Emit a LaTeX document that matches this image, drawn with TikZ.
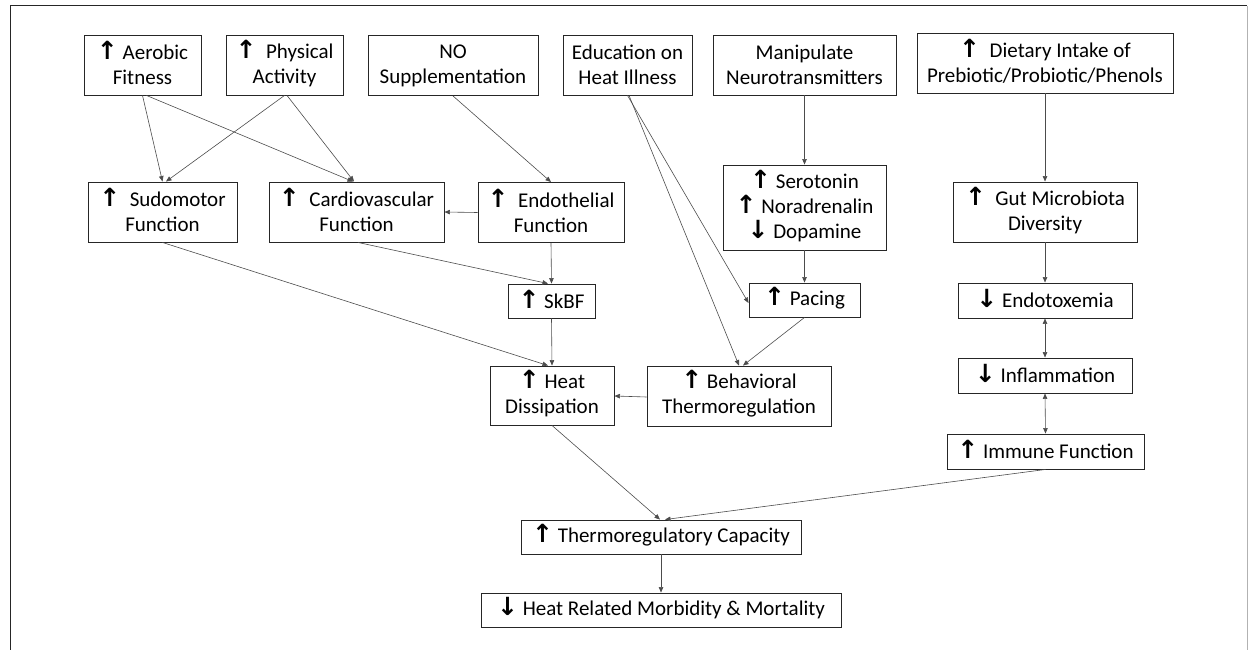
\documentclass[tikz,border=0pt]{standalone}
\usepackage{fontspec}
\setmainfont{Carlito}
\newfontfamily\arrowfont{DejaVu Sans}
\usetikzlibrary{arrows.meta}
\newcommand{\upa}{\smash{\arrowfont\bfseries\fontsize{25}{25}\selectfont ↑}}
\newcommand{\dna}{\smash{\arrowfont\bfseries\fontsize{25}{25}\selectfont ↓}}
\begin{document}
\begin{tikzpicture}[x=1pt,y=-1pt,
  box/.style={draw=black!85, line width=0.9pt, inner sep=0pt, align=center,
    font=\fontsize{21}{25}\selectfont, minimum height=60pt},
  sbox/.style={box, minimum height=34pt},
  conn/.style={draw=black!70, line width=0.6pt, -{Triangle[length=5.5pt,width=4.5pt]}},
  bconn/.style={draw=black!70, line width=0.6pt, {Triangle[length=5.5pt,width=4.5pt]}-{Triangle[length=5.5pt,width=4.5pt]}}]
\useasboundingbox (0,0) rectangle (1248,650);
\draw[line width=1pt, black!85] (10,650) -- (10,6) -- (1247,6);
\draw[line width=0.8pt, black!30] (1247,6) -- (1247,650);

% row 1
\node[box, minimum width=117pt] (aer) at (142.5,65) {\upa\ Aerobic\\Fitness};
\node[box, minimum width=117pt] (phy) at (284.5,65) {\upa\ \ Physical\\Activity};
\node[box, minimum width=170pt] (no) at (453,65.5) {NO\\Supplementation};
\node[box, minimum width=129pt] (edu) at (627.5,65) {Education on\\Heat Illness};
\node[box, minimum width=183pt] (man) at (804.5,65) {Manipulate\\Neurotransmitters};
\node[box, minimum width=256pt] (diet) at (1045,63) {\upa\ \ Dietary Intake of\\Prebiotic/Probiotic/Phenols};
% row 2
\node[box, minimum width=149pt] (sud) at (162.5,212) {\upa\ \ Sudomotor\\Function};
\node[box, minimum width=175pt] (car) at (356.5,212) {\upa\ \ Cardiovascular\\Function};
\node[box, minimum width=146pt] (endo) at (551,212.5) {\upa\ \ Endothelial\\Function};
\node[box, minimum width=163pt, minimum height=85pt] (sero) at (804.5,207.5) {\upa\ Serotonin\\\upa\ Noradrenalin\\\dna\ Dopamine};
\node[box, minimum width=184pt] (gut) at (1045,212) {\upa\ \ Gut Microbiota\\Diversity};
% row 3
\node[sbox, minimum width=87pt] (skbf) at (551.5,301) {\upa\ SkBF};
\node[sbox, minimum width=111pt] (pace) at (804.5,300) {\upa\ Pacing};
\node[sbox, minimum width=174pt, minimum height=35pt] (etox) at (1045,300.5) {\dna\ Endotoxemia};
% row 4
\node[box, minimum width=124pt, minimum height=59pt] (heat) at (552,395.5) {\upa\ Heat\\Dissipation};
\node[box, minimum width=184pt] (beh) at (739,396) {\upa\ Behavioral\\Thermoregulation};
\node[sbox, minimum width=174pt, minimum height=35pt] (infl) at (1045,375.5) {\dna\ Inflammation};
\node[sbox, minimum width=197pt, minimum height=35pt] (imm) at (1045.5,451.5) {\upa\ Immune Function};
% bottom
\node[sbox, minimum width=280pt] (tcap) at (661,537) {\upa\ Thermoregulatory Capacity};
\node[sbox, minimum width=360pt] (hrm) at (661,610) {\dna\ Heat Related Morbidity \& Mortality};

% connectors
\draw[conn] (aer.south) -- (sud.north);
\draw[conn] ([xshift=4pt]aer.south) -- ([xshift=-3.5pt]car.north);
\draw[conn] (phy.south) -- ([xshift=3.5pt]sud.north);
\draw[conn] ([xshift=2.5pt]phy.south) -- ([xshift=-2.5pt]car.north);
\draw[conn] (no.south) -- (endo.north);
\draw[conn] (endo.west) -- (car.east);
\draw[conn] (edu.south) -- ([yshift=-3pt]pace.west);
\draw[conn] ([xshift=1.5pt]edu.south) -- (beh.north);
\draw[conn] (man.south) -- (sero.north);
\draw[conn] (sero.south) -- (pace.north);
\draw[conn] (pace.south) -- ([xshift=4pt]beh.north);
\draw[conn] ([yshift=-1pt]beh.west) -- ([yshift=-0.5pt]heat.east);
\draw[conn] (endo.south) -- (skbf.north);
\draw[conn] ([xshift=1.5pt]car.south) -- ([xshift=-3.5pt]skbf.north);
\draw[conn] (skbf.south) -- (heat.north);
\draw[conn] (sud.south) -- ([xshift=-4pt]heat.north);
\draw[conn] (diet.south) -- (gut.north);
\draw[conn] (gut.south) -- (etox.north);
\draw[bconn] (etox.south) -- (infl.north);
\draw[bconn] (infl.south) -- (imm.north);
\draw[conn] (heat.south) -- ([xshift=-1pt]tcap.north);
\draw[conn] (imm.south) -- ([xshift=4pt]tcap.north);
\draw[conn] (tcap.south) -- (hrm.north);
\end{tikzpicture}
\end{document}
